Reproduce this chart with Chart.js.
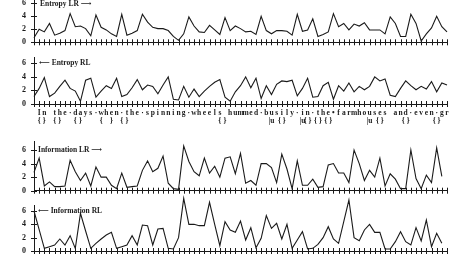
<!DOCTYPE html>
<html>
<head>
<meta charset="utf-8">
<script src="https://cdn.jsdelivr.net/npm/chart.js@4.4.1/dist/chart.umd.min.js"></script>
<style>
  body { margin: 0; background: #fff; width: 454px; height: 261px; overflow: hidden; position: relative; }
  canvas { position: absolute; left: 0; }
</style>
</head>
<body>
<canvas id="c1" width="454" height="50" style="top:0px"></canvas>
<canvas id="c2" width="454" height="71" style="top:57px"></canvas>
<canvas id="c3" width="454" height="58" style="top:141px"></canvas>
<canvas id="c4" width="454" height="65" style="top:195px"></canvas>
<script>
// texto que corre por baixo do segundo painel, um caractere por ponto
const sentence = "In the·days·when·the·spinning·wheels hummed·busily·in·the•farmhouses and·even·gr";
const bracePos = [0, 1, 3, 4, 7, 8, 12, 14, 16, 17, 35, 36, 45, 47, 51, 52, 54, 56, 64, 66, 71, 77];
const braceTok = ['{', '}', '{', '}', '{', '}', '{', '}', '{', '}', '{', '}', '|u', '{ }', '|u', '{ }', '{ }', '{ }', '|u', '{ }', '{ }', '{ }'];

const entropyLR = [0.7, 2.0, 1.6, 2.9, 1.1, 1.4, 1.8, 4.4, 2.4, 2.5,
  2.1, 1.0, 4.2, 2.3, 1.9, 1.3, 0.9, 4.3, 1.1, 1.4,
  1.8, 4.3, 3.1, 2.3, 2.1, 2.1, 1.8, 0.9, 0.3, 1.3,
  3.9, 2.5, 1.6, 1.5, 2.6, 1.9, 1.2, 3.8,
  1.8, 2.5, 2.1, 1.6, 1.7, 1.2, 4.0, 1.8, 1.3, 1.8,
  1.8, 1.7, 1.1, 4.3, 1.7, 1.9, 3.6, 0.9, 1.2, 1.6,
  4.4, 2.4, 2.9, 1.9, 2.8, 2.5, 3.0, 1.9, 1.9, 1.9,
  1.3, 3.9, 2.9, 0.9, 0.9, 4.3, 2.9, 0.2, 1.3, 2.2,
  4.0, 2.4, 1.6];

const entropyRL = [1.1, 2.3, 3.9, 1.1, 1.6, 2.6, 3.5, 2.3, 1.9, 0.4,
  3.5, 3.8, 1.0, 1.9, 2.7, 2.3, 3.8, 1.1, 1.4, 2.4,
  3.6, 2.1, 2.8, 2.6, 1.5, 2.8, 4.0, 0.7, 0.6, 2.6,
  1.0, 2.2, 1.1, 1.9, 2.6, 3.2, 3.6, 1.0, 0.4,
  1.8, 2.7, 4.0, 2.4, 3.8, 0.8, 2.7, 1.4, 2.9, 3.4,
  3.3, 3.5, 1.2, 2.3, 3.8, 1.0, 1.1, 2.7, 3.2, 0.7,
  2.7, 1.9, 3.1, 1.8, 2.6, 2.1, 2.6, 4.0, 3.4, 3.7,
  1.3, 1.1, 2.3, 3.4, 2.7, 2.1, 2.6, 2.2, 3.3, 1.8,
  3.1, 2.8];

const infoLR = [2.7, 4.8, 0.7, 1.3, 0.6, 0.6, 0.7, 4.5, 2.8, 1.5,
  2.6, 0.7, 3.5, 2.0, 2.0, 0.8, 0.3, 2.6, 0.5, 0.6,
  0.7, 3.0, 4.4, 2.8, 3.3, 5.1, 1.1, 0.3, 0.2, 6.6,
  4.3, 2.8, 2.2, 4.8, 2.6, 3.6, 2.0, 4.8,
  5.0, 2.5, 5.5, 1.1, 1.5, 0.8, 4.0, 4.0, 3.4, 1.2,
  5.4, 3.2, 0.3, 4.4, 0.8, 0.8, 1.7, 0.5, 0.6, 3.8,
  4.0, 2.6, 2.6, 1.2, 6.0, 4.0, 1.5, 3.0, 2.0, 4.8,
  0.7, 2.5, 1.7, 0.3, 0.3, 6.0, 1.8, 0.3, 2.3, 1.2,
  6.3, 2.1];

const infoRL = [6.0, 3.2, 0.4, 0.65, 0.9, 1.8, 0.9, 2.3, 0.4, 5.65,
  3.0, 0.4, 1.15, 1.8, 2.4, 2.8, 0.4, 0.65, 0.9, 2.3,
  0.9, 3.9, 3.8, 0.9, 3.3, 3.4, 0.4, 0.3, 2.0, 7.9,
  4.0, 4.0, 3.8, 3.8, 7.3, 4.0, 0.8, 4.4,
  3.15, 2.8, 4.5, 1.65, 3.5, 0.5, 1.9, 5.3, 3.4, 4.15,
  1.8, 4.0, 0.4, 1.65, 2.9, 0.3, 0.4, 1.0, 2.0, 3.65,
  1.8, 1.15, 4.4, 7.65, 2.0, 1.55, 3.15, 4.0, 2.8, 2.8,
  0.3, 0.3, 1.4, 2.9, 1.4, 0.9, 3.5, 1.5, 4.65, 0.65,
  2.65, 1.15];

const yTicks = [0, 2, 4, 6];

// rótulos do eixo x: [caractere, chave]
const chars = Array.from(sentence);
const braces = chars.map(() => '');
bracePos.forEach((p, i) => { braces[p] = braceTok[i]; });
const xLabels = [['', '']].concat(chars.map((c, i) => [c, braces[i]]));

const ink = '#1a1a1a';
const serif = '"Liberation Serif", "DejaVu Serif", serif';

// marcas em cruz sobre os eixos
const crossTicks = {
  id: 'crossTicks',
  afterDraw(chart) {
    const { ctx, chartArea: a, scales: { x, y } } = chart;
    ctx.save();
    ctx.strokeStyle = ink;
    ctx.lineWidth = 1;
    ctx.beginPath();
    x.ticks.forEach((t, i) => {
      const px = Math.round(x.getPixelForTick(i)) + 0.5;
      ctx.moveTo(px, a.bottom - 3);
      ctx.lineTo(px, a.bottom + 3);
    });
    y.ticks.forEach((t, i) => {
      const py = Math.round(y.getPixelForTick(i)) + 0.5;
      ctx.moveTo(a.left - 3, py);
      ctx.lineTo(a.left + 3, py);
    });
    ctx.stroke();
    ctx.restore();
  }
};

const panelLabel = {
  id: 'panelLabel',
  afterDraw(chart, args, opts) {
    const { ctx, chartArea: a, scales: { y } } = chart;
    ctx.save();
    ctx.font = 'bold 7.5px ' + serif;
    ctx.fillStyle = ink;
    ctx.textBaseline = 'middle';
    ctx.fillText(opts.text, a.left + opts.dx, Math.max(y.getPixelForValue(6), 4));
    ctx.restore();
  }
};

function makeChart(id, values, cfg) {
  return new Chart(document.getElementById(id), {
    type: 'line',
    data: {
      labels: xLabels,
      datasets: [{
        data: values,
        borderColor: ink,
        borderWidth: 1.1,
        pointRadius: 0,
        tension: 0,
        fill: false,
        clip: false
      }]
    },
    options: {
      responsive: false,
      animation: false,
      devicePixelRatio: 1,
      layout: { padding: { top: cfg.padTop || 0, right: 7, left: 0, bottom: 0 } },
      plugins: {
        legend: { display: false },
        tooltip: { enabled: false },
        panelLabel: { text: cfg.title, dx: cfg.dx }
      },
      scales: {
        x: {
          grid: { display: false, drawTicks: false },
          border: { display: true, color: ink, width: 1 },
          ticks: {
            display: !!cfg.showText,
            autoSkip: false,
            maxRotation: 0,
            minRotation: 0,
            padding: 5,
            color: ink,
            font: { family: serif, size: 7.5, weight: 'bold', lineHeight: 1.1 }
          },
          afterFit: s => { s.height = cfg.xh; s.paddingLeft = 0; s.paddingRight = 0; }
        },
        y: {
          min: 0,
          max: cfg.ymax,
          grid: { display: false, drawTicks: false },
          border: { display: true, color: ink, width: 1 },
          afterBuildTicks: s => { s.ticks = yTicks.map(v => ({ value: v })); },
          ticks: {
            autoSkip: false,
            padding: 8,
            color: ink,
            font: { family: serif, size: 8, weight: 'bold' }
          },
          afterFit: s => { s.width = 34; s.paddingTop = 0; s.paddingBottom = 0; }
        }
      }
    },
    plugins: [crossTicks, panelLabel]
  });
}

makeChart('c1', entropyLR, { title: 'Entropy LR ⟶', dx: 6, ymax: 6.5, xh: 7.7 });
makeChart('c2', entropyRL, { title: '⟵ Entropy RL', dx: 5, ymax: 6.93, xh: 24, showText: true });
makeChart('c3', infoLR, { title: 'Information LR ⟶', dx: 4, ymax: 7.33, xh: 8.3 });
makeChart('c4', infoRL, { title: '⟵ Information RL', dx: 4, ymax: 6.9, xh: 9, padTop: 10 });
</script>
</body>
</html>
